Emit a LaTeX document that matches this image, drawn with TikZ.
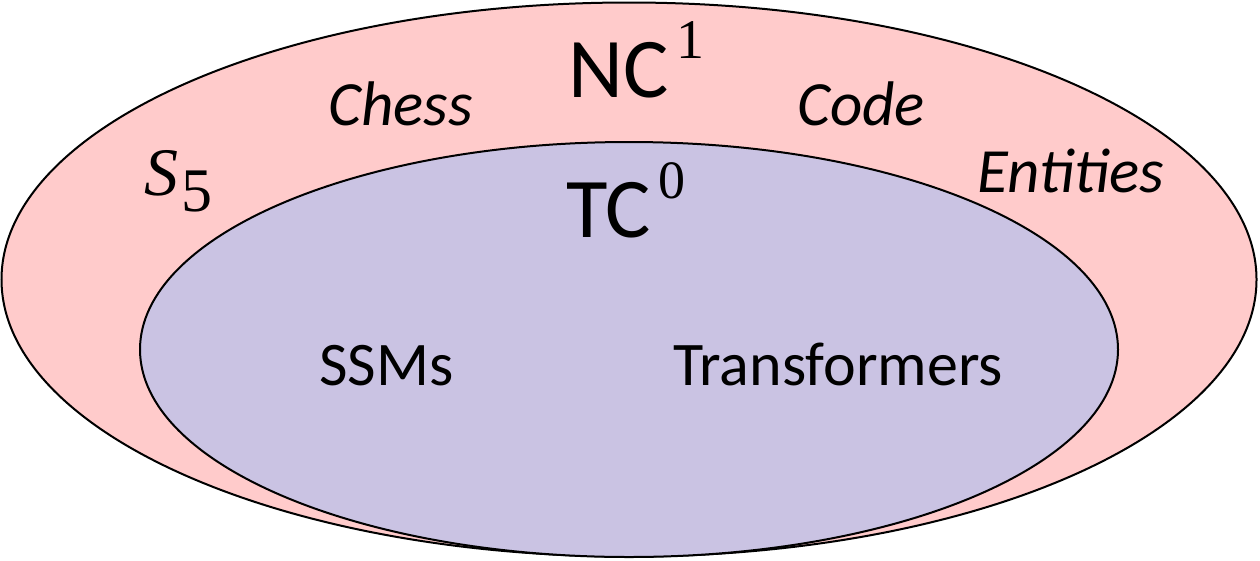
\documentclass[tikz,border=0pt]{standalone}
\usepackage{fontspec}
\setmainfont{Carlito}
\newfontfamily\mathserif{Liberation Serif}
\definecolor{outerpink}{RGB}{255,203,203}
\definecolor{innerlav}{RGB}{202,195,227}
\tikzset{
  setshape/.style={draw=black, line width=2pt},
  biglabel/.style={anchor=base west, inner sep=0pt, font=\fontsize{85}{90}\selectfont},
  itlabel/.style={anchor=base west, inner sep=0pt, font=\fontsize{63}{70}\selectfont\itshape},
  uplabel/.style={anchor=base west, inner sep=0pt, font=\fontsize{62}{70}\selectfont},
}
\begin{document}
\begin{tikzpicture}[x=1pt,y=-1pt]
\useasboundingbox (0,0) rectangle (1260,560);
\draw[setshape, fill=outerpink] (629,279.5) ellipse [x radius=627.5, y radius=277];
\draw[setshape, fill=innerlav] (629,349.5) ellipse [x radius=489, y radius=207.5];
\node[biglabel] (nc) at (568,97) {NC\hspace{8pt}\raisebox{39pt}{\mathserif\fontsize{56}{60}\selectfont 1}};
\node[biglabel] (tc) at (566,237) {T\hspace{-2pt}C\hspace{8pt}\raisebox{39pt}{\mathserif\fontsize{54}{60}\selectfont 0}};
\node[anchor=base west, inner sep=0pt, font=\mathserif\fontsize{62}{70}\selectfont] (s5) at (144,195) {{\fontsize{68}{70}\selectfont\textit{S}}\hspace{3pt}\raisebox{-16pt}{5}};
\node[itlabel] (chess) at (328,125) {Chess};
\node[itlabel] (code) at (797,125) {Code};
\node[itlabel] (ent) at (977,192) {Entities};
\node[uplabel] (ssm) at (319,385) {SSMs};
\node[uplabel] (tf) at (673,385) {Transformers};
\end{tikzpicture}
\end{document}
